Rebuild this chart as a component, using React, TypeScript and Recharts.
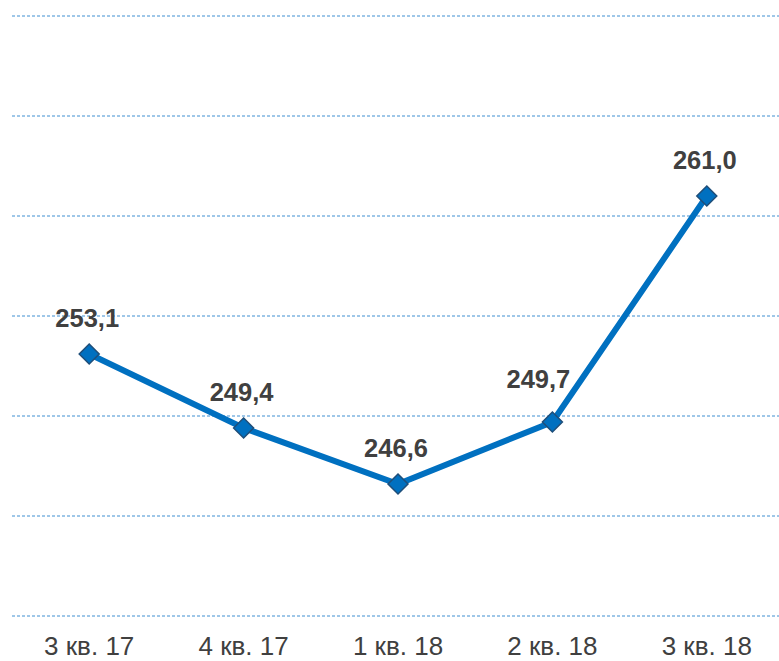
import { CartesianGrid, LabelList, Line, LineChart, XAxis, YAxis } from "recharts";

const quarters = ["3 кв. 17", "4 кв. 17", "1 кв. 18", "2 кв. 18", "3 кв. 18"];
const values = [253.1, 249.4, 246.6, 249.7, 261.0];
const yTicks = [240, 245, 250, 255, 260, 265, 270];

const data = quarters.map((q, i) => ({ quarter: q, value: values[i] }));

const fmt = (v: any) => Number(v).toFixed(1).replace(".", ",");

const Diamond = (props: any) => {
	const { cx, cy } = props;
	if (cx == null || cy == null) return null;
	const r = 10;
	return (
		<path
			d={`M${cx},${cy - r} L${cx + r},${cy} L${cx},${cy + r} L${cx - r},${cy} Z`}
			fill="#0070C0"
			stroke="#1F4E79"
			strokeWidth={1.5}
		/>
	);
};

// value labels sit above the point; the 4th one is nudged up-left like in the source
const ValueLabel = (props: any) => {
	const { x, y, value, index } = props;
	const shifted = index === 3;
	return (
		<text
			x={x + (shifted ? -14 : -2)}
			y={y - (shifted ? 34 : 27)}
			textAnchor="middle"
			fill="#404040"
			fontSize={25.5}
			fontWeight="bold"
		>
			{fmt(value)}
		</text>
	);
};

export default function App() {
	return (
		<div
			style={{
				position: "fixed",
				left: 0,
				top: 0,
				width: 779,
				height: 661,
				overflow: "hidden",
				background: "#fff",
			}}
		>
			<LineChart
				width={790}
				height={661}
				data={data}
				margin={{ top: 16, right: 6, left: 12, bottom: 0 }}
				style={{ fontFamily: "'Liberation Sans', Arial, sans-serif" }}
			>
				<CartesianGrid
					vertical={false}
					stroke="#3F8FD2"
					strokeDasharray="3 2"
				/>
				<XAxis
					dataKey="quarter"
					scale="band"
					axisLine={false}
					tickLine={false}
					tickSize={0}
					tickMargin={21}
					height={45}
					interval={0}
					tick={{ fill: "#404040", fontSize: 26 }}
				/>
				<YAxis hide domain={[240, 270]} ticks={yTicks} />
				<Line
					type="linear"
					dataKey="value"
					stroke="#0070C0"
					strokeWidth={6}
					dot={<Diamond />}
					activeDot={false}
					isAnimationActive={false}
				>
					<LabelList dataKey="value" content={<ValueLabel />} />
				</Line>
			</LineChart>
		</div>
	);
}
